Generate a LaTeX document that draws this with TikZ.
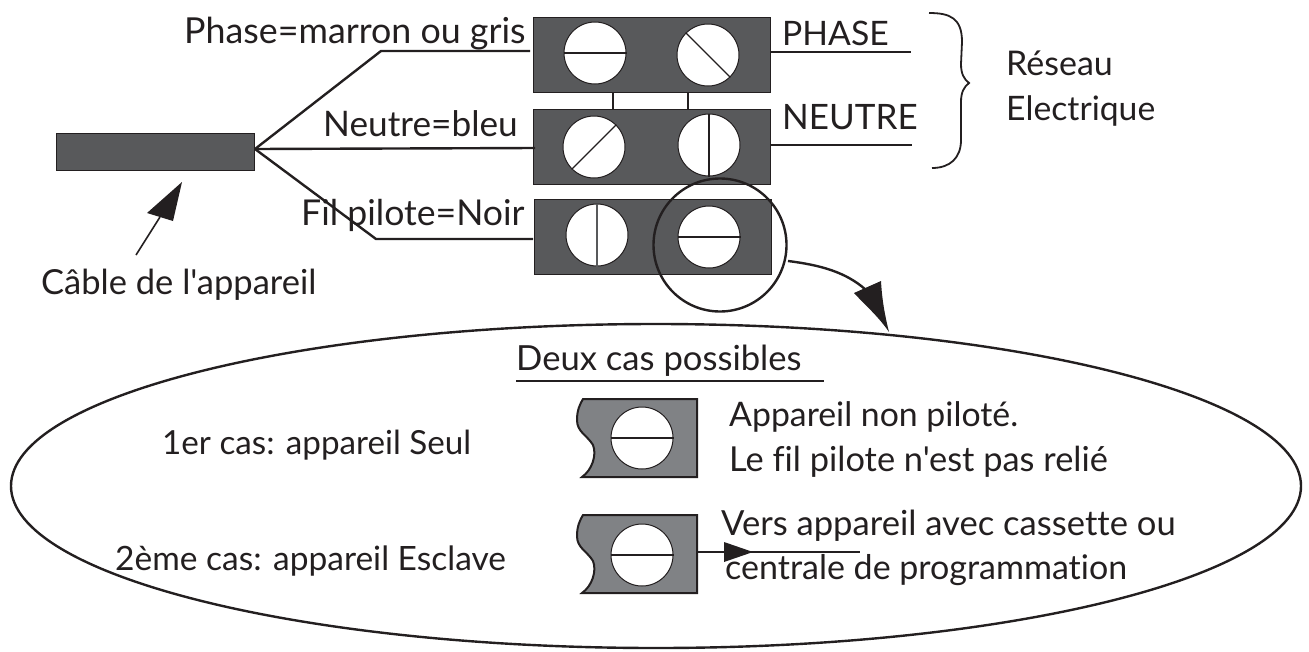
\documentclass[tikz,border=0pt]{standalone}
\usepackage{fontspec}
\usetikzlibrary{shapes.geometric}
\newfontfamily\lbl[Ligatures=NoCommon]{Lato}
\definecolor{bardark}{HTML}{58595B}
\definecolor{barmid}{HTML}{808285}
\definecolor{ink}{HTML}{231F20}
\tikzset{
  txt/.style={font=\fontsize{#1}{#1}\lbl,text=ink,inner sep=0pt,anchor=base west},
  bar/.style={fill=bardark,draw=ink,line width=1pt},
  screw/.style={circle,fill=white,draw=ink,line width=1pt,minimum size=62pt,inner sep=0pt},
  wire/.style={draw=ink,line width=2.4pt},
  thin wire/.style={draw=ink,line width=1.2pt},
  head/.style={fill=ink,draw=none},
}
\begin{document}
\begin{tikzpicture}[x=1pt,y=-1pt]
\useasboundingbox (0,0) rectangle (1309,651);
% ellipse
\node[draw=ink,line width=2.4pt,ellipse,minimum width=1290pt,minimum height=324pt,inner sep=0pt] (oval) at (656,486) {};
% cable
\node[bar,minimum width=198pt,minimum height=37pt,inner sep=0pt] (cable) at (155,151.5) {};
\coordinate (hub) at (255,149);
% terminal bars
\node[bar,minimum width=237pt,minimum height=75pt,inner sep=0pt] (b1) at (651.5,54.5) {};
\node[bar,minimum width=237pt,minimum height=75pt,inner sep=0pt] (b2) at (651.5,146.5) {};
\node[bar,minimum width=237pt,minimum height=75pt,inner sep=0pt] (b3) at (652.5,236.5) {};
% screws
\node[screw] (s11) at (595,53) {};
\node[screw] (s12) at (708,55) {};
\node[screw] (s21) at (594,147) {};
\node[screw] (s22) at (709,145) {};
\node[screw] (s31) at (597,235) {};
\node[screw] (s32) at (709,237) {};
\draw[thin wire] (s11.west) -- (s11.east);
\draw[thin wire] (s12.135) -- (s12.-45);
\draw[thin wire] (s21.-135) -- (s21.45);
\draw[thin wire] (s22.north) -- (s22.south);
\draw[thin wire,draw=bardark] (s31.north) -- (s31.south);
\draw[thin wire] (s32.west) -- (s32.east);
% links
\coordinate (l1a) at (613,92); \coordinate (l1b) at (613,109);
\coordinate (l2a) at (688,92); \coordinate (l2b) at (688,109);
\draw[wire] (l1a) -- (l1b);
\draw[wire] (l2a) -- (l2b);
% wires
\draw[wire,line join=round] (hub) -- (381,51) -- (530,51);
\draw[wire] (hub) -- (535,148);
\draw[wire,line join=round] (hub) -- (376,239) -- (533,239);
\coordinate (pe) at (911,52); \coordinate (ne) at (912,145);
\draw[wire] (b1.east |- pe) -- (pe);
\draw[wire] (b2.east |- ne) -- (ne);
% magnifier
\node[circle,draw=ink,line width=2.4pt,minimum size=133pt,inner sep=0pt] (lens) at (720,245) {};
\draw[wire] (788,261) .. controls (820,265) and (846,272) .. (866,290);
\fill[head] (889,332) .. controls (878,316) and (866,306) .. (854,293) -- (881,281) .. controls (882,300) and (885,316) .. cycle;
% cable arrow
\coordinate (ca) at (136,255);
\draw[draw=ink,line width=1.6pt] (ca) -- (160,217);
\fill[head] (182,182) -- (147,213) -- (173,221) -- cycle;
% brace
\draw[draw=ink,line width=1.8pt] (929,13) .. controls (950,13) and (962,18) .. (962,42) -- (961,64) .. controls (961,74) and (964,79) .. (969,83) .. controls (964,87) and (961,92) .. (961,102) -- (961,140) .. controls (961,158) and (950,168) .. (932,168);
% underline
\coordinate (ua) at (516,381); \coordinate (ub) at (824,381);
\draw[draw=ink,line width=1.6pt] (ua) -- (ub);
% detail terminals
\path[fill=barmid,draw=ink,line width=2pt] (583,399) -- (697,399) -- (697,477) -- (582,477) .. controls (592,470) and (597,455) .. (593,445) .. controls (587,435) and (577,432) .. (577,420) .. controls (577,410) and (580,404) .. (583,399) -- cycle;
\path[fill=barmid,draw=ink,line width=2pt] (583,515) -- (697,515) -- (697,593) -- (582,593) .. controls (592,586) and (597,571) .. (593,561) .. controls (587,551) and (577,548) .. (577,536) .. controls (577,526) and (580,520) .. (583,515) -- cycle;
\node[screw] (d1) at (642,438) {};
\node[screw] (d2) at (642,555) {};
\draw[thin wire] (d1.west) -- (d1.east);
\draw[thin wire] (d2.west) -- (d2.east);
\coordinate (de) at (860,552);
\draw[wire] (697,552) -- (de);
\fill[head] (753,552) -- (724,542) -- (724,562) -- cycle;
% texts
\node[txt=35.8] (t1) at (184,43) {Phase=marron ou gris};
\node[txt=35.2] (t2) at (323,136) {Neutre=bleu};
\node[txt=35.6] (t3) at (301,225) {Fil pilote=Noir};
\node[txt=33.7] (t4) at (782,45) {PHASE};
\node[txt=35] (t5) at (782,129) {NEUTRE};
\node[txt=34] (t6) at (1006,75) {Réseau};
\node[txt=33.7] (t7) at (1006,120) {Electrique};
\node[txt=34.5] (t8) at (41,294) {Câble de l'appareil};
\node[txt=34.6] (t9) at (516,370) {Deux cas possibles};
\node[txt=33.2] (t10) at (162,454) {1er cas: appareil Seul};
\node[txt=33.8] (t11) at (729,426) {Appareil non piloté.};
\node[txt=34.4] (t12) at (729,471) {Le fil pilote n'est pas relié};
\node[txt=34.6] (t13) at (721,535) {Vers appareil avec cassette ou};
\node[txt=34] (t14) at (725,579) {centrale de programmation};
\node[txt=33.5] (t15) at (115,570) {2ème cas: appareil Esclave};
\end{tikzpicture}
\end{document}
